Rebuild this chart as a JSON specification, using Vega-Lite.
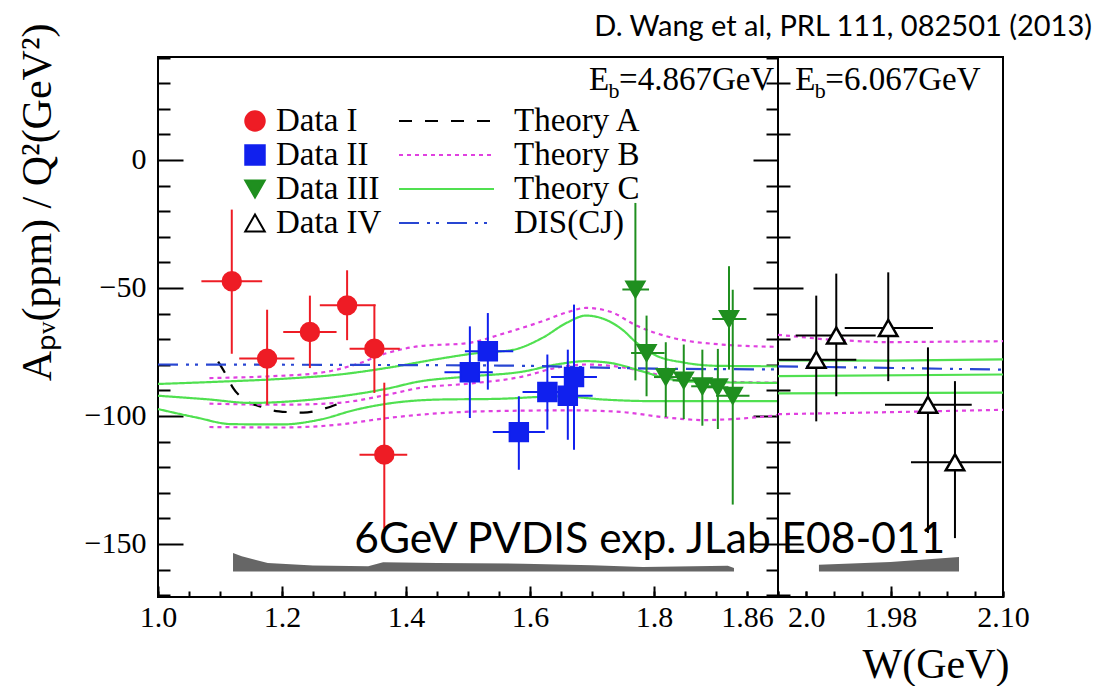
{
  "$schema": "https://vega.github.io/schema/vega-lite/v6.json",
  "background": "white",
  "padding": {"left": 14, "top": 12, "right": 0, "bottom": 0},
  "spacing": 0,
  "bounds": "flush",
  "resolve": {
    "scale": {"color": "independent", "stroke": "independent", "fill": "independent", "shape": "independent", "strokeDash": "independent"},
    "legend": {"color": "independent", "stroke": "independent", "fill": "independent", "shape": "independent", "strokeDash": "independent"}
  },
  "config": {
    "view": {"stroke": "black", "strokeWidth": 2},
    "axis": {"domain": false, "grid": false, "tickColor": "black", "tickWidth": 2, "labelColor": "black", "labelFont": "Liberation Serif", "labelFontSize": 30, "titleFont": "Liberation Serif", "titleFontWeight": "normal", "titleColor": "black", "labelFlush": false, "labelOverlap": false, "labelBound": false}
  },
  "datasets": {
    "pts": [
      {"series": "Data I", "x": 1.119, "y": -47.4, "xlo": 1.070, "xhi": 1.168, "ylo": -75.7, "yhi": -19.4},
      {"series": "Data I", "x": 1.176, "y": -77.6, "xlo": 1.131, "xhi": 1.220, "ylo": -95.6, "yhi": -58.5},
      {"series": "Data I", "x": 1.245, "y": -67.2, "xlo": 1.202, "xhi": 1.288, "ylo": -81.3, "yhi": -53.0},
      {"series": "Data I", "x": 1.305, "y": -56.8, "xlo": 1.261, "xhi": 1.351, "ylo": -70.4, "yhi": -43.1},
      {"series": "Data I", "x": 1.349, "y": -73.7, "xlo": 1.309, "xhi": 1.390, "ylo": -91.0, "yhi": -56.5},
      {"series": "Data I", "x": 1.365, "y": -115.1, "xlo": 1.325, "xhi": 1.402, "ylo": -143.8, "yhi": -87.0},
      {"series": "Data II", "x": 1.503, "y": -82.9, "xlo": 1.462, "xhi": 1.540, "ylo": -100.8, "yhi": -65.0},
      {"series": "Data II", "x": 1.532, "y": -74.7, "xlo": 1.495, "xhi": 1.573, "ylo": -89.7, "yhi": -59.8},
      {"series": "Data II", "x": 1.582, "y": -106.3, "xlo": 1.540, "xhi": 1.624, "ylo": -121.0, "yhi": -92.3},
      {"series": "Data II", "x": 1.628, "y": -90.6, "xlo": 1.588, "xhi": 1.669, "ylo": -105.3, "yhi": -76.0},
      {"series": "Data II", "x": 1.661, "y": -92.1, "xlo": 1.645, "xhi": 1.701, "ylo": -109.3, "yhi": -74.1},
      {"series": "Data II", "x": 1.671, "y": -84.8, "xlo": 1.634, "xhi": 1.708, "ylo": -113.2, "yhi": -56.5},
      {"series": "Data III", "x": 1.770, "y": -50.6, "xlo": 1.749, "xhi": 1.792, "ylo": -86.1, "yhi": -16.8},
      {"series": "Data III", "x": 1.788, "y": -75.4, "xlo": 1.763, "xhi": 1.817, "ylo": -92.3, "yhi": -60.8},
      {"series": "Data III", "x": 1.819, "y": -84.8, "xlo": 1.800, "xhi": 1.840, "ylo": -100.4, "yhi": -71.2},
      {"series": "Data III", "x": 1.848, "y": -86.1, "xlo": 1.830, "xhi": 1.868, "ylo": -101.2, "yhi": -72.1},
      {"series": "Data III", "x": 1.878, "y": -88.4, "xlo": 1.860, "xhi": 1.895, "ylo": -103.8, "yhi": -74.1},
      {"series": "Data III", "x": 1.903, "y": -88.8, "xlo": 1.885, "xhi": 1.920, "ylo": -105.1, "yhi": -73.8},
      {"series": "Data III", "x": 1.921, "y": -62.1, "xlo": 1.894, "xhi": 1.949, "ylo": -81.9, "yhi": -41.5},
      {"series": "Data III", "x": 1.927, "y": -92.1, "xlo": 1.900, "xhi": 1.954, "ylo": -134.6, "yhi": -50.7},
      {"series": "Data IV", "x": 2.034, "y": -78.0, "xlo": 2.0, "xhi": 2.0696, "ylo": -102.1, "yhi": -53.0},
      {"series": "Data IV", "x": 2.0518, "y": -68.6, "xlo": 2.0157, "xhi": 2.0868, "ylo": -92.3, "yhi": -44.4},
      {"series": "Data IV", "x": 2.098, "y": -65.6, "xlo": 2.0593, "xhi": 2.1378, "ylo": -86.4, "yhi": -43.9},
      {"series": "Data IV", "x": 2.1333, "y": -95.6, "xlo": 2.0951, "xhi": 2.1722, "ylo": -145.7, "yhi": -73.2},
      {"series": "Data IV", "x": 2.1573, "y": -118.1, "xlo": 2.1182, "xhi": 2.1985, "ylo": -147.7, "yhi": -86.4}
    ],
    "curves": [
      {"curve": "A", "theory": "Theory A", "panel": "L", "x": 1.097, "y": -78.8},
      {"curve": "A", "theory": "Theory A", "panel": "L", "x": 1.110, "y": -84.0},
      {"curve": "A", "theory": "Theory A", "panel": "L", "x": 1.121, "y": -89.0},
      {"curve": "A", "theory": "Theory A", "panel": "L", "x": 1.142, "y": -94.0},
      {"curve": "A", "theory": "Theory A", "panel": "L", "x": 1.169, "y": -96.6},
      {"curve": "A", "theory": "Theory A", "panel": "L", "x": 1.185, "y": -97.8},
      {"curve": "A", "theory": "Theory A", "panel": "L", "x": 1.210, "y": -98.5},
      {"curve": "A", "theory": "Theory A", "panel": "L", "x": 1.234, "y": -98.7},
      {"curve": "A", "theory": "Theory A", "panel": "L", "x": 1.266, "y": -97.3},
      {"curve": "A", "theory": "Theory A", "panel": "L", "x": 1.288, "y": -95.5},
      {"curve": "B1", "theory": "Theory B", "panel": "L", "x": 1.083, "y": -85.2},
      {"curve": "B1", "theory": "Theory B", "panel": "L", "x": 1.18, "y": -84.5},
      {"curve": "B1", "theory": "Theory B", "panel": "L", "x": 1.26, "y": -83.2},
      {"curve": "B1", "theory": "Theory B", "panel": "L", "x": 1.32, "y": -79.8},
      {"curve": "B1", "theory": "Theory B", "panel": "L", "x": 1.37, "y": -75.4},
      {"curve": "B1", "theory": "Theory B", "panel": "L", "x": 1.42, "y": -72.8},
      {"curve": "B1", "theory": "Theory B", "panel": "L", "x": 1.50, "y": -71.5},
      {"curve": "B1", "theory": "Theory B", "panel": "L", "x": 1.56, "y": -67.6},
      {"curve": "B1", "theory": "Theory B", "panel": "L", "x": 1.62, "y": -63.0},
      {"curve": "B1", "theory": "Theory B", "panel": "L", "x": 1.66, "y": -59.5},
      {"curve": "B1", "theory": "Theory B", "panel": "L", "x": 1.69, "y": -57.8},
      {"curve": "B1", "theory": "Theory B", "panel": "L", "x": 1.73, "y": -59.3},
      {"curve": "B1", "theory": "Theory B", "panel": "L", "x": 1.77, "y": -64.5},
      {"curve": "B1", "theory": "Theory B", "panel": "L", "x": 1.83, "y": -69.5},
      {"curve": "B1", "theory": "Theory B", "panel": "L", "x": 1.91, "y": -72.1},
      {"curve": "B1", "theory": "Theory B", "panel": "L", "x": 2.0, "y": -73.0},
      {"curve": "B2", "theory": "Theory B", "panel": "L", "x": 1.083, "y": -95.2},
      {"curve": "B2", "theory": "Theory B", "panel": "L", "x": 1.2, "y": -95.6},
      {"curve": "B2", "theory": "Theory B", "panel": "L", "x": 1.29, "y": -94.9},
      {"curve": "B2", "theory": "Theory B", "panel": "L", "x": 1.37, "y": -91.7},
      {"curve": "B2", "theory": "Theory B", "panel": "L", "x": 1.42, "y": -89.1},
      {"curve": "B2", "theory": "Theory B", "panel": "L", "x": 1.50, "y": -87.4},
      {"curve": "B2", "theory": "Theory B", "panel": "L", "x": 1.59, "y": -84.5},
      {"curve": "B2", "theory": "Theory B", "panel": "L", "x": 1.64, "y": -81.3},
      {"curve": "B2", "theory": "Theory B", "panel": "L", "x": 1.69, "y": -79.9},
      {"curve": "B2", "theory": "Theory B", "panel": "L", "x": 1.73, "y": -80.4},
      {"curve": "B2", "theory": "Theory B", "panel": "L", "x": 1.78, "y": -82.4},
      {"curve": "B2", "theory": "Theory B", "panel": "L", "x": 1.83, "y": -85.2},
      {"curve": "B2", "theory": "Theory B", "panel": "L", "x": 1.90, "y": -86.5},
      {"curve": "B2", "theory": "Theory B", "panel": "L", "x": 2.0, "y": -87.0},
      {"curve": "B3", "theory": "Theory B", "panel": "L", "x": 1.083, "y": -104.3},
      {"curve": "B3", "theory": "Theory B", "panel": "L", "x": 1.2, "y": -104.5},
      {"curve": "B3", "theory": "Theory B", "panel": "L", "x": 1.29, "y": -103.4},
      {"curve": "B3", "theory": "Theory B", "panel": "L", "x": 1.37, "y": -100.8},
      {"curve": "B3", "theory": "Theory B", "panel": "L", "x": 1.45, "y": -99.0},
      {"curve": "B3", "theory": "Theory B", "panel": "L", "x": 1.52, "y": -98.2},
      {"curve": "B3", "theory": "Theory B", "panel": "L", "x": 1.67, "y": -97.8},
      {"curve": "B3", "theory": "Theory B", "panel": "L", "x": 1.75, "y": -98.5},
      {"curve": "B3", "theory": "Theory B", "panel": "L", "x": 1.82, "y": -100.6},
      {"curve": "B3", "theory": "Theory B", "panel": "L", "x": 1.88, "y": -101.6},
      {"curve": "B3", "theory": "Theory B", "panel": "L", "x": 1.94, "y": -101.0},
      {"curve": "B3", "theory": "Theory B", "panel": "L", "x": 2.0, "y": -99.7},
      {"curve": "C1", "theory": "Theory C", "panel": "L", "x": 1.0, "y": -87.5},
      {"curve": "C1", "theory": "Theory C", "panel": "L", "x": 1.1, "y": -86.6},
      {"curve": "C1", "theory": "Theory C", "panel": "L", "x": 1.2, "y": -85.5},
      {"curve": "C1", "theory": "Theory C", "panel": "L", "x": 1.3, "y": -83.6},
      {"curve": "C1", "theory": "Theory C", "panel": "L", "x": 1.37, "y": -81.2},
      {"curve": "C1", "theory": "Theory C", "panel": "L", "x": 1.45, "y": -77.8},
      {"curve": "C1", "theory": "Theory C", "panel": "L", "x": 1.52, "y": -75.3},
      {"curve": "C1", "theory": "Theory C", "panel": "L", "x": 1.57, "y": -74.3},
      {"curve": "C1", "theory": "Theory C", "panel": "L", "x": 1.62, "y": -69.5},
      {"curve": "C1", "theory": "Theory C", "panel": "L", "x": 1.66, "y": -63.5},
      {"curve": "C1", "theory": "Theory C", "panel": "L", "x": 1.69, "y": -60.8},
      {"curve": "C1", "theory": "Theory C", "panel": "L", "x": 1.72, "y": -62.2},
      {"curve": "C1", "theory": "Theory C", "panel": "L", "x": 1.75, "y": -66.5},
      {"curve": "C1", "theory": "Theory C", "panel": "L", "x": 1.77, "y": -71.0},
      {"curve": "C1", "theory": "Theory C", "panel": "L", "x": 1.80, "y": -76.0},
      {"curve": "C1", "theory": "Theory C", "panel": "L", "x": 1.85, "y": -79.2},
      {"curve": "C1", "theory": "Theory C", "panel": "L", "x": 1.90, "y": -80.4},
      {"curve": "C1", "theory": "Theory C", "panel": "L", "x": 2.0, "y": -80.6},
      {"curve": "C2", "theory": "Theory C", "panel": "L", "x": 1.0, "y": -92.1},
      {"curve": "C2", "theory": "Theory C", "panel": "L", "x": 1.08, "y": -93.5},
      {"curve": "C2", "theory": "Theory C", "panel": "L", "x": 1.15, "y": -94.9},
      {"curve": "C2", "theory": "Theory C", "panel": "L", "x": 1.23, "y": -94.0},
      {"curve": "C2", "theory": "Theory C", "panel": "L", "x": 1.31, "y": -91.8},
      {"curve": "C2", "theory": "Theory C", "panel": "L", "x": 1.37, "y": -89.3},
      {"curve": "C2", "theory": "Theory C", "panel": "L", "x": 1.42, "y": -86.6},
      {"curve": "C2", "theory": "Theory C", "panel": "L", "x": 1.50, "y": -84.6},
      {"curve": "C2", "theory": "Theory C", "panel": "L", "x": 1.59, "y": -82.6},
      {"curve": "C2", "theory": "Theory C", "panel": "L", "x": 1.64, "y": -80.0},
      {"curve": "C2", "theory": "Theory C", "panel": "L", "x": 1.69, "y": -78.6},
      {"curve": "C2", "theory": "Theory C", "panel": "L", "x": 1.73, "y": -79.3},
      {"curve": "C2", "theory": "Theory C", "panel": "L", "x": 1.78, "y": -82.5},
      {"curve": "C2", "theory": "Theory C", "panel": "L", "x": 1.82, "y": -85.3},
      {"curve": "C2", "theory": "Theory C", "panel": "L", "x": 1.86, "y": -86.6},
      {"curve": "C2", "theory": "Theory C", "panel": "L", "x": 2.0, "y": -87.1},
      {"curve": "C3", "theory": "Theory C", "panel": "L", "x": 1.0, "y": -97.3},
      {"curve": "C3", "theory": "Theory C", "panel": "L", "x": 1.06, "y": -100.5},
      {"curve": "C3", "theory": "Theory C", "panel": "L", "x": 1.12, "y": -103.2},
      {"curve": "C3", "theory": "Theory C", "panel": "L", "x": 1.2, "y": -103.3},
      {"curve": "C3", "theory": "Theory C", "panel": "L", "x": 1.26, "y": -101.5},
      {"curve": "C3", "theory": "Theory C", "panel": "L", "x": 1.32, "y": -97.5},
      {"curve": "C3", "theory": "Theory C", "panel": "L", "x": 1.37, "y": -95.2},
      {"curve": "C3", "theory": "Theory C", "panel": "L", "x": 1.45, "y": -93.6},
      {"curve": "C3", "theory": "Theory C", "panel": "L", "x": 1.55, "y": -93.3},
      {"curve": "C3", "theory": "Theory C", "panel": "L", "x": 1.65, "y": -92.3},
      {"curve": "C3", "theory": "Theory C", "panel": "L", "x": 1.72, "y": -93.6},
      {"curve": "C3", "theory": "Theory C", "panel": "L", "x": 1.80, "y": -94.2},
      {"curve": "C3", "theory": "Theory C", "panel": "L", "x": 2.0, "y": -94.2},
      {"curve": "D", "theory": "DIS(CJ)", "panel": "L", "x": 1.0, "y": -79.9},
      {"curve": "D", "theory": "DIS(CJ)", "panel": "L", "x": 1.55, "y": -80.3},
      {"curve": "D", "theory": "DIS(CJ)", "panel": "L", "x": 1.8, "y": -81.5},
      {"curve": "D", "theory": "DIS(CJ)", "panel": "L", "x": 2.0, "y": -81.8},
      {"curve": "B1R", "theory": "Theory B", "panel": "R", "x": 2.0, "y": -68.3},
      {"curve": "B1R", "theory": "Theory B", "panel": "R", "x": 2.04, "y": -70.0},
      {"curve": "B1R", "theory": "Theory B", "panel": "R", "x": 2.09, "y": -71.2},
      {"curve": "B1R", "theory": "Theory B", "panel": "R", "x": 2.2, "y": -70.8},
      {"curve": "B3R", "theory": "Theory B", "panel": "R", "x": 2.0, "y": -99.3},
      {"curve": "B3R", "theory": "Theory B", "panel": "R", "x": 2.1, "y": -98.5},
      {"curve": "B3R", "theory": "Theory B", "panel": "R", "x": 2.2, "y": -97.6},
      {"curve": "C1R", "theory": "Theory C", "panel": "R", "x": 2.0, "y": -78.3},
      {"curve": "C1R", "theory": "Theory C", "panel": "R", "x": 2.1, "y": -78.4},
      {"curve": "C1R", "theory": "Theory C", "panel": "R", "x": 2.2, "y": -77.9},
      {"curve": "C2R", "theory": "Theory C", "panel": "R", "x": 2.0, "y": -84.4},
      {"curve": "C2R", "theory": "Theory C", "panel": "R", "x": 2.2, "y": -83.8},
      {"curve": "C3R", "theory": "Theory C", "panel": "R", "x": 2.0, "y": -91.2},
      {"curve": "C3R", "theory": "Theory C", "panel": "R", "x": 2.2, "y": -90.9},
      {"curve": "DR", "theory": "DIS(CJ)", "panel": "R", "x": 2.0, "y": -80.6},
      {"curve": "DR", "theory": "DIS(CJ)", "panel": "R", "x": 2.2, "y": -81.9}
    ],
    "band": [
      {"panel": "L", "x": 1.121, "top": -153.5, "bottom": -160.7},
      {"panel": "L", "x": 1.135, "top": -154.8, "bottom": -160.7},
      {"panel": "L", "x": 1.177, "top": -157.4, "bottom": -160.7},
      {"panel": "L", "x": 1.25, "top": -158.4, "bottom": -160.7},
      {"panel": "L", "x": 1.339, "top": -158.7, "bottom": -160.7},
      {"panel": "L", "x": 1.363, "top": -157.1, "bottom": -160.7},
      {"panel": "L", "x": 1.45, "top": -157.4, "bottom": -160.7},
      {"panel": "L", "x": 1.589, "top": -157.7, "bottom": -160.7},
      {"panel": "L", "x": 1.70, "top": -158.3, "bottom": -160.7},
      {"panel": "L", "x": 1.782, "top": -159.0, "bottom": -160.7},
      {"panel": "L", "x": 1.919, "top": -158.5, "bottom": -160.7},
      {"panel": "L", "x": 1.929, "top": -159.4, "bottom": -160.7},
      {"panel": "R", "x": 2.0364, "top": -158.1, "bottom": -160.7},
      {"panel": "R", "x": 2.10, "top": -157.0, "bottom": -160.7},
      {"panel": "R", "x": 2.1609, "top": -155.1, "bottom": -160.7}
    ],
    "notesL": [
      {"label": "E", "x": 1.6952, "y": 27.5, "kind": "main"},
      {"label": "=4.867GeV", "x": 1.6952, "y": 27.5, "kind": "rest"},
      {"label": "b", "x": 1.6952, "y": 27.5, "kind": "sub"}
    ],
    "notesR": [
      {"label": "E", "x": 2.0154, "y": 27.5, "kind": "main"},
      {"label": "=6.067GeV", "x": 2.0154, "y": 27.5, "kind": "rest"},
      {"label": "b", "x": 2.0154, "y": 27.5, "kind": "sub"}
    ]
  },
  "hconcat": [
    {
      "width": 620,
      "height": 540,
      "resolve": {"scale": {"color": "independent", "strokeDash": "independent"}, "axis": {"x": "independent", "y": "independent"}},
      "layer": [
        {
          "data": {"name": "band"},
          "transform": [{"filter": "datum.panel === 'L'"}],
          "mark": {"type": "area", "color": "#666666"},
          "encoding": {
            "x": {"field": "x", "type": "quantitative", "scale": {"domain": [1.0, 2.0], "nice": false, "zero": false},
              "axis": {"orient": "bottom", "values": [1, 1.2, 1.4, 1.6, 1.8, 1.95],
                "labelOverlap": false,
                "tickSize": {"condition": {"test": "datum.value > 1.9", "value": -6}, "value": -11},
                "labelPadding": {"condition": {"test": "datum.value > 1.9", "value": 11}, "value": 16},
                "labelExpr": "datum.value > 1.9 ? '1.86' : format(datum.value, '.1f')",
                "title": null}},
            "y": {"field": "top", "type": "quantitative", "scale": {"domain": [-170.7, 40.2], "nice": false, "zero": false},
              "axis": {"orient": "right", "labels": false, "title": null, "values": [-170,-160,-150,-140,-130,-120,-110,-100,-90,-80,-70,-60,-50,-40,-30,-20,-10,0,10,20,30,40],
                "tickSize": {"condition": {"test": "datum.value % 50 === 0", "value": -25}, "value": -12}}},
            "y2": {"field": "bottom"}
          }
        },
        {
          "data": {"name": "curves"},
          "transform": [{"filter": "datum.panel === 'L'"}],
          "mark": {"type": "line", "strokeWidth": 2.2, "interpolate": "monotone"},
          "encoding": {
            "x": {"field": "x", "type": "quantitative", "scale": {"domain": [1.0, 2.0], "nice": false, "zero": false},
              "axis": {"orient": "bottom", "values": [1,1.05,1.1,1.15,1.2,1.25,1.3,1.35,1.4,1.45,1.5,1.55,1.6,1.65,1.7,1.75,1.8,1.85,1.9,1.95,2], "labels": false, "title": null, "tickSize": -6}},
            "y": {"field": "y", "type": "quantitative", "scale": {"domain": [-170.7, 40.2], "nice": false, "zero": false}, "axis": null},
            "detail": {"field": "curve"},
            "color": {"field": "theory", "type": "nominal",
              "scale": {"domain": ["Theory A", "Theory B", "Theory C", "DIS(CJ)"], "range": ["black", "#e040e0", "#50e050", "#2846d2"]},
              "legend": {"title": null, "orient": "none", "legendX": 234.5, "legendY": 47.5, "direction": "vertical", "labelFont": "Liberation Serif", "labelFontSize": 33, "labelColor": "black", "symbolType": "M-1,0H8.5", "symbolSize": 400, "symbolStrokeWidth": 2, "rowPadding": -1.8, "labelOffset": 88.5, "padding": 0, "labelLimit": 0}},
            "strokeDash": {"field": "theory", "type": "nominal",
              "scale": {"domain": ["Theory A", "Theory B", "Theory C", "DIS(CJ)"], "range": [[13, 13], [4, 4], [1, 0], [20, 8, 3, 6, 3, 8]]},
              "legend": {"title": null, "orient": "none", "legendX": 234.5, "legendY": 47.5, "direction": "vertical", "labelFont": "Liberation Serif", "labelFontSize": 33, "labelColor": "black", "symbolType": "M-1,0H8.5", "symbolSize": 400, "symbolStrokeWidth": 2, "rowPadding": -1.8, "labelOffset": 88.5, "padding": 0, "labelLimit": 0}}
          }
        },
        {
          "data": {"name": "pts"},
          "transform": [{"filter": "datum.series !== 'Data IV'"}],
          "mark": {"type": "rule", "strokeWidth": 2},
          "encoding": {
            "x": {"field": "xlo", "type": "quantitative", "scale": {"domain": [1.0, 2.0], "nice": false, "zero": false}, "axis": null},
            "x2": {"field": "xhi"},
            "y": {"field": "y", "type": "quantitative", "scale": {"domain": [-170.7, 40.2], "nice": false, "zero": false}, "axis": null},
            "color": {"field": "series", "type": "nominal", "scale": {"domain": ["Data I", "Data II", "Data III", "Data IV"], "range": ["#ee1c25", "#1020ee", "#1f8f1f", "black"]}, "legend": null}
          }
        },
        {
          "data": {"name": "pts"},
          "transform": [{"filter": "datum.series !== 'Data IV'"}],
          "mark": {"type": "rule", "strokeWidth": 2},
          "encoding": {
            "x": {"field": "x", "type": "quantitative", "scale": {"domain": [1.0, 2.0], "nice": false, "zero": false}, "axis": null},
            "y": {"field": "ylo", "type": "quantitative", "scale": {"domain": [-170.7, 40.2], "nice": false, "zero": false}, "axis": null},
            "y2": {"field": "yhi"},
            "color": {"field": "series", "type": "nominal", "scale": {"domain": ["Data I", "Data II", "Data III", "Data IV"], "range": ["#ee1c25", "#1020ee", "#1f8f1f", "black"]}, "legend": null}
          }
        },
        {
          "data": {"name": "pts"},
          "transform": [{"filter": "datum.series !== 'Data IV'"}],
          "mark": {"type": "point", "filled": true, "opacity": 1, "size": 340, "strokeWidth": 2},
          "encoding": {
            "x": {"field": "x", "type": "quantitative", "scale": {"domain": [1.0, 2.0], "nice": false, "zero": false}, "axis": null},
            "y": {"field": "y", "type": "quantitative", "scale": {"domain": [-170.7, 40.2], "nice": false, "zero": false},
              "axis": {"orient": "left", "values": [-170,-160,-150,-140,-130,-120,-110,-100,-90,-80,-70,-60,-50,-40,-30,-20,-10,0,10,20,30,40],
                "tickSize": {"condition": {"test": "datum.value % 50 === 0", "value": -25}, "value": -12},
                "labelExpr": "datum.value % 50 === 0 ? datum.label : ''",
                "labelPadding": 37,
                "title": "Aₚᵥ(ppm) / Q²(GeV²)", "titleFontSize": 42, "titleAnchor": "end", "titleAlign": "right", "titleAngle": -90, "titleBaseline": "alphabetic", "titleX": -108, "titleY": -34}},
            "shape": {"field": "series", "type": "nominal", "scale": {"domain": ["Data I", "Data II", "Data III", "Data IV"], "range": ["circle", "square", "triangle-down", "triangle-up"]},
              "legend": {"title": null, "orient": "none", "legendX": 80.5, "legendY": 47.5, "direction": "vertical", "labelFont": "Liberation Serif", "labelFontSize": 33, "labelColor": "black", "symbolSize": 380, "symbolStrokeWidth": 2, "rowPadding": -1.8, "labelOffset": 4.5, "padding": 0, "labelLimit": 0}},
            "fill": {"field": "series", "type": "nominal", "scale": {"domain": ["Data I", "Data II", "Data III", "Data IV"], "range": ["#ee1c25", "#1020ee", "#1f8f1f", "white"]},
              "legend": {"title": null, "orient": "none", "legendX": 80.5, "legendY": 47.5, "direction": "vertical", "labelFont": "Liberation Serif", "labelFontSize": 33, "labelColor": "black", "symbolSize": 380, "symbolStrokeWidth": 2, "rowPadding": -1.8, "labelOffset": 4.5, "padding": 0, "labelLimit": 0}},
            "stroke": {"field": "series", "type": "nominal", "scale": {"domain": ["Data I", "Data II", "Data III", "Data IV"], "range": ["#ee1c25", "#1020ee", "#1f8f1f", "black"]},
              "legend": {"title": null, "orient": "none", "legendX": 80.5, "legendY": 47.5, "direction": "vertical", "labelFont": "Liberation Serif", "labelFontSize": 33, "labelColor": "black", "symbolSize": 380, "symbolStrokeWidth": 2, "rowPadding": -1.8, "labelOffset": 4.5, "padding": 0, "labelLimit": 0}}
          }
        },
        {
          "data": {"name": "notesL"},
          "transform": [{"filter": "datum.kind === 'main'"}],
          "mark": {"type": "text", "font": "Liberation Serif", "fontSize": 33, "align": "left", "baseline": "alphabetic", "color": "black"},
          "encoding": {
            "x": {"field": "x", "type": "quantitative", "scale": {"domain": [1.0, 2.0], "nice": false, "zero": false}, "axis": null},
            "y": {"field": "y", "type": "quantitative", "scale": {"domain": [-170.7, 40.2], "nice": false, "zero": false}, "axis": null},
            "text": {"field": "label"}
          }
        },
        {
          "data": {"name": "notesL"},
          "transform": [{"filter": "datum.kind === 'sub'"}],
          "mark": {"type": "text", "font": "Liberation Serif", "fontSize": 22, "align": "left", "baseline": "alphabetic", "color": "black", "dx": 19.5, "dy": 8},
          "encoding": {
            "x": {"field": "x", "type": "quantitative", "scale": {"domain": [1.0, 2.0], "nice": false, "zero": false}, "axis": null},
            "y": {"field": "y", "type": "quantitative", "scale": {"domain": [-170.7, 40.2], "nice": false, "zero": false}, "axis": null},
            "text": {"field": "label"}
          }
        },
        {
          "data": {"name": "notesL"},
          "transform": [{"filter": "datum.kind === 'rest'"}],
          "mark": {"type": "text", "font": "Liberation Serif", "fontSize": 33, "align": "left", "baseline": "alphabetic", "color": "black", "dx": 30},
          "encoding": {
            "x": {"field": "x", "type": "quantitative", "scale": {"domain": [1.0, 2.0], "nice": false, "zero": false}, "axis": null},
            "y": {"field": "y", "type": "quantitative", "scale": {"domain": [-170.7, 40.2], "nice": false, "zero": false}, "axis": null},
            "text": {"field": "label"}
          }
        },
        {
          "data": {"values": [{"label": "6GeV PVDIS exp. JLab E08-011", "x": 1.3165, "y": -153.5}]},
          "mark": {"type": "text", "font": "Lato", "fontSize": 42.5, "align": "left", "baseline": "alphabetic", "color": "black"},
          "encoding": {
            "x": {"field": "x", "type": "quantitative", "scale": {"domain": [1.0, 2.0], "nice": false, "zero": false}, "axis": null},
            "y": {"field": "y", "type": "quantitative", "scale": {"domain": [-170.7, 40.2], "nice": false, "zero": false}, "axis": null},
            "text": {"field": "label"}
          }
        }
      ]
    },
    {
      "width": 225,
      "height": 540,
      "resolve": {"axis": {"x": "independent"}},
      "layer": [
        {
          "data": {"name": "band"},
          "transform": [{"filter": "datum.panel === 'R'"}],
          "mark": {"type": "area", "color": "#666666"},
          "encoding": {
            "x": {"field": "x", "type": "quantitative", "scale": {"domain": [2.0, 2.2], "nice": false, "zero": false},
              "axis": {"orient": "bottom", "values": [2.025, 2.1, 2.2],
                "labelOverlap": false,
                "tickSize": {"condition": {"test": "abs(datum.value - 2.1) < 0.001", "value": -11}, "value": -6},
                "labelPadding": {"condition": {"test": "abs(datum.value - 2.1) < 0.001", "value": 16}, "value": 11},
                "labelExpr": "datum.value < 2.05 ? '2.0' : (datum.value < 2.15 ? '1.98' : '2.10')",
                "title": "W(GeV)", "titleFontSize": 42, "titleAlign": "right", "titleAnchor": "end", "titleBaseline": "alphabetic", "titleX": 231, "titleY": 80}},
            "y": {"field": "top", "type": "quantitative", "scale": {"domain": [-170.7, 40.2], "nice": false, "zero": false},
              "axis": {"orient": "left", "labels": false, "title": null, "values": [-170,-160,-150,-140,-130,-120,-110,-100,-90,-80,-70,-60,-50,-40,-30,-20,-10,0,10,20,30,40],
                "tickSize": {"condition": {"test": "datum.value % 50 === 0", "value": -25}, "value": -12}}},
            "y2": {"field": "bottom"}
          }
        },
        {
          "data": {"name": "curves"},
          "transform": [{"filter": "datum.panel === 'R' && datum.theory === 'Theory B'"}],
          "mark": {"type": "line", "strokeWidth": 2.2, "color": "#e040e0", "strokeDash": [4, 4]},
          "encoding": {
            "x": {"field": "x", "type": "quantitative", "scale": {"domain": [2.0, 2.2], "nice": false, "zero": false},
              "axis": {"orient": "bottom", "values": [2, 2.025, 2.05, 2.075, 2.1, 2.125, 2.15, 2.175, 2.2], "labels": false, "title": null, "tickSize": -6}},
            "y": {"field": "y", "type": "quantitative", "scale": {"domain": [-170.7, 40.2], "nice": false, "zero": false}},
            "detail": {"field": "curve"}
          }
        },
        {
          "data": {"name": "curves"},
          "transform": [{"filter": "datum.panel === 'R' && datum.theory === 'Theory C'"}],
          "mark": {"type": "line", "strokeWidth": 2.2, "color": "#50e050"},
          "encoding": {
            "x": {"field": "x", "type": "quantitative", "scale": {"domain": [2.0, 2.2], "nice": false, "zero": false}, "axis": null},
            "y": {"field": "y", "type": "quantitative", "scale": {"domain": [-170.7, 40.2], "nice": false, "zero": false}},
            "detail": {"field": "curve"}
          }
        },
        {
          "data": {"name": "curves"},
          "transform": [{"filter": "datum.panel === 'R' && datum.theory === 'DIS(CJ)'"}],
          "mark": {"type": "line", "strokeWidth": 2.2, "color": "#2846d2", "strokeDash": [20, 8, 3, 6, 3, 8]},
          "encoding": {
            "x": {"field": "x", "type": "quantitative", "scale": {"domain": [2.0, 2.2], "nice": false, "zero": false}, "axis": null},
            "y": {"field": "y", "type": "quantitative", "scale": {"domain": [-170.7, 40.2], "nice": false, "zero": false}},
            "detail": {"field": "curve"}
          }
        },
        {
          "data": {"name": "pts"},
          "transform": [{"filter": "datum.series === 'Data IV'"}],
          "mark": {"type": "rule", "strokeWidth": 2, "color": "black"},
          "encoding": {
            "x": {"field": "xlo", "type": "quantitative", "scale": {"domain": [2.0, 2.2], "nice": false, "zero": false}, "axis": null},
            "x2": {"field": "xhi"},
            "y": {"field": "y", "type": "quantitative", "scale": {"domain": [-170.7, 40.2], "nice": false, "zero": false}}
          }
        },
        {
          "data": {"name": "pts"},
          "transform": [{"filter": "datum.series === 'Data IV'"}],
          "mark": {"type": "rule", "strokeWidth": 2, "color": "black"},
          "encoding": {
            "x": {"field": "x", "type": "quantitative", "scale": {"domain": [2.0, 2.2], "nice": false, "zero": false}, "axis": null},
            "y": {"field": "ylo", "type": "quantitative", "scale": {"domain": [-170.7, 40.2], "nice": false, "zero": false}},
            "y2": {"field": "yhi"}
          }
        },
        {
          "data": {"name": "pts"},
          "transform": [{"filter": "datum.series === 'Data IV'"}],
          "mark": {"type": "point", "shape": "triangle-up", "filled": true, "fill": "white", "stroke": "black", "strokeWidth": 2.5, "opacity": 1, "size": 340},
          "encoding": {
            "x": {"field": "x", "type": "quantitative", "scale": {"domain": [2.0, 2.2], "nice": false, "zero": false}, "axis": null},
            "y": {"field": "y", "type": "quantitative", "scale": {"domain": [-170.7, 40.2], "nice": false, "zero": false}}
          }
        },
        {
          "data": {"name": "notesR"},
          "transform": [{"filter": "datum.kind === 'main'"}],
          "mark": {"type": "text", "font": "Liberation Serif", "fontSize": 33, "align": "left", "baseline": "alphabetic", "color": "black"},
          "encoding": {
            "x": {"field": "x", "type": "quantitative", "scale": {"domain": [2.0, 2.2], "nice": false, "zero": false}, "axis": null},
            "y": {"field": "y", "type": "quantitative", "scale": {"domain": [-170.7, 40.2], "nice": false, "zero": false}},
            "text": {"field": "label"}
          }
        },
        {
          "data": {"name": "notesR"},
          "transform": [{"filter": "datum.kind === 'sub'"}],
          "mark": {"type": "text", "font": "Liberation Serif", "fontSize": 22, "align": "left", "baseline": "alphabetic", "color": "black", "dx": 19.5, "dy": 8},
          "encoding": {
            "x": {"field": "x", "type": "quantitative", "scale": {"domain": [2.0, 2.2], "nice": false, "zero": false}, "axis": null},
            "y": {"field": "y", "type": "quantitative", "scale": {"domain": [-170.7, 40.2], "nice": false, "zero": false}},
            "text": {"field": "label"}
          }
        },
        {
          "data": {"name": "notesR"},
          "transform": [{"filter": "datum.kind === 'rest'"}],
          "mark": {"type": "text", "font": "Liberation Serif", "fontSize": 33, "align": "left", "baseline": "alphabetic", "color": "black", "dx": 30},
          "encoding": {
            "x": {"field": "x", "type": "quantitative", "scale": {"domain": [2.0, 2.2], "nice": false, "zero": false}, "axis": null},
            "y": {"field": "y", "type": "quantitative", "scale": {"domain": [-170.7, 40.2], "nice": false, "zero": false}},
            "text": {"field": "label"}
          }
        },
        {
          "data": {"values": [{"label": "D. Wang et al, PRL 111, 082501 (2013)", "x": 2.2791, "y": 48.4}]},
          "mark": {"type": "text", "font": "Lato", "fontSize": 29, "align": "right", "baseline": "alphabetic", "color": "black"},
          "encoding": {
            "x": {"field": "x", "type": "quantitative", "scale": {"domain": [2.0, 2.2], "nice": false, "zero": false}, "axis": null},
            "y": {"field": "y", "type": "quantitative", "scale": {"domain": [-170.7, 40.2], "nice": false, "zero": false}},
            "text": {"field": "label"}
          }
        }
      ]
    }
  ]
}
